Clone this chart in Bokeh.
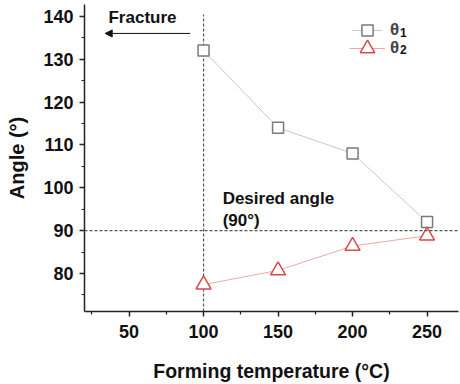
from bokeh.plotting import figure
from bokeh.models import Span, Arrow, NormalHead, Label, Legend, LegendItem, Range1d, FixedTicker
from bokeh.embed import file_html
from bokeh.resources import INLINE

temps = [100, 150, 200, 250]
theta1 = [132.0, 114.0, 108.0, 92.0]
theta2 = [77.4, 80.7, 86.4, 88.8]
x_ticks = [50, 100, 150, 200, 250]
x_minor = [25, 75, 125, 175, 225]
y_ticks = [80, 90, 100, 110, 120, 130, 140]
y_minor = [75, 85, 95, 105, 115, 125, 135]
fracture_x = 100
desired_angle = 90

FONT = "Liberation Sans"
INK = "#111111"
Y0, Y1 = 71.12, 142.75

p = figure(width=460, height=384, output_backend="svg", toolbar_location=None,
           x_range=Range1d(20.1, 271.1), y_range=Range1d(Y0, Y1),
           min_border_left=84, min_border_right=2, min_border_top=4, min_border_bottom=67)
p.outline_line_color = None
p.xgrid.visible = False
p.ygrid.visible = False

for ax in (p.xaxis[0], p.yaxis[0]):
    ax.axis_line_width = 1.5
    ax.axis_line_color = "#222222"
    ax.major_tick_line_color = "#222222"
    ax.minor_tick_line_color = "#222222"
    ax.major_tick_line_width = 1.5
    ax.minor_tick_line_width = 1.2
    ax.major_tick_out = 5
    ax.major_tick_in = 0
    ax.minor_tick_out = 3
    ax.minor_tick_in = 0
    ax.major_label_text_font = FONT
    ax.major_label_text_font_style = "bold"
    ax.major_label_text_font_size = "18px"
    ax.major_label_text_color = INK
    ax.axis_label_text_font = FONT
    ax.axis_label_text_font_style = "bold"
    ax.axis_label_text_color = INK

p.xaxis.axis_label_text_font_size = "19.5px"
p.yaxis.axis_label_text_font_size = "20px"
p.xaxis.ticker = FixedTicker(ticks=x_ticks, minor_ticks=x_minor)
p.yaxis.ticker = FixedTicker(ticks=y_ticks, minor_ticks=y_minor)
p.xaxis.axis_label = "Forming temperature (°C)"
p.yaxis.axis_label = "Angle (°)"
p.xaxis.major_label_standoff = 8
p.yaxis.major_label_standoff = 6
p.xaxis.axis_label_standoff = 19
p.yaxis.axis_label_standoff = 12

# reference lines
p.segment(x0=[fracture_x], y0=[Y0], x1=[fracture_x], y1=[140.4], line_color="#555555",
          line_dash="3 2", line_width=1.2)
p.add_layout(Span(location=desired_angle, dimension="width", line_color="#555555",
                  line_dash="3 2", line_width=1.2))

l1 = p.line(temps, theta1, line_color="#c8c8c8", line_width=1)
s1 = p.scatter(temps, theta1, marker="square", size=11, line_color="#7a7a7a",
               fill_color="white", line_width=1.5)
l2 = p.line(temps, theta2, line_color="#f2a8a8", line_width=1)
s2 = p.scatter(temps, theta2, marker="triangle", size=15, line_color="#d94a4a",
               fill_color="white", line_width=1.5)

p.add_layout(Arrow(end=NormalHead(size=7, fill_color=INK, line_color=INK),
                   x_start=91, y_start=136.0, x_end=34, y_end=136.0,
                   line_color=INK, line_width=1))

def add_text(x, y, t, size="17px"):
    p.add_layout(Label(x=x, y=y, text=t, text_font=FONT, text_font_style="bold",
                       text_font_size=size, text_baseline="middle", text_color=INK))

add_text(36.2, 139.7, "Fracture")
add_text(112.8, 97.6, "Desired angle")
add_text(112.8, 92.3, "(90°)")

common = dict(border_line_color=None, background_fill_alpha=0, label_text_font=FONT,
              label_text_font_style="bold", label_text_font_size="17px",
              spacing=0, padding=0, margin=0)
legend1 = Legend(items=[LegendItem(label="θ", renderers=[l1, s1])],
                 location=(268, 267), glyph_width=30, glyph_height=28,
                 label_height=18, label_standoff=8, **common)
legend2 = Legend(items=[LegendItem(label="θ", renderers=[l2, s2])],
                 location=(265, 245), glyph_width=36, glyph_height=36,
                 label_height=18, label_standoff=5, **common)
p.add_layout(legend1)
p.add_layout(legend2)
# subscripts of the legend labels
add_text(231.8, 136.3, "1", size="12px")
add_text(231.8, 132.2, "2", size="12px")

open("out.html", "w").write(file_html(p, INLINE))
